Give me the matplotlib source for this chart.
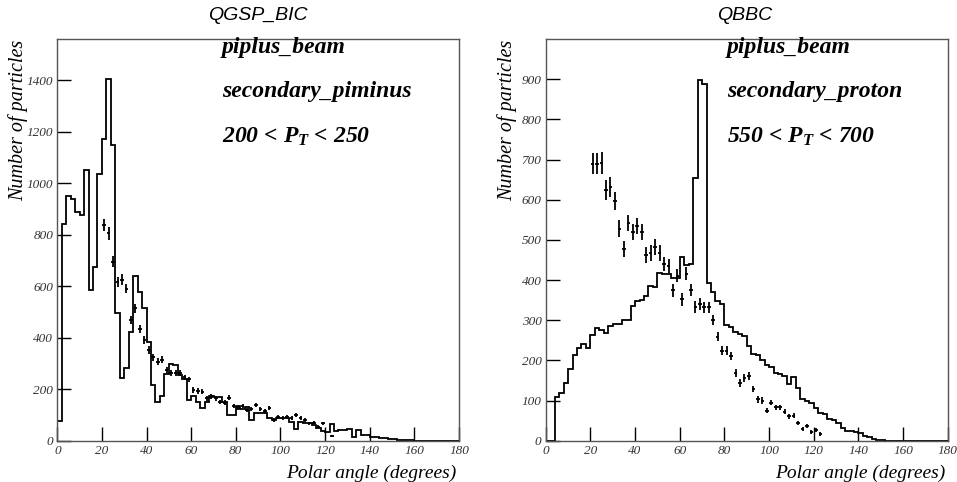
import numpy as np
import matplotlib
matplotlib.use("Agg")
import matplotlib.pyplot as plt

plt.rcParams['mathtext.fontset'] = 'custom'
plt.rcParams['mathtext.it'] = 'Liberation Serif:bold:italic'
plt.rcParams['mathtext.rm'] = 'Liberation Serif:bold:italic'
plt.rcParams['mathtext.bf'] = 'Liberation Serif:bold:italic'

# ---------------- data ----------------
bin_edges = np.arange(0, 182, 2)

left_mc = [78, 840, 950, 937, 888, 875, 1051, 585, 675, 1034,
           1171, 1403, 1149, 494, 242, 281, 423, 639, 579, 514,
           384, 216, 151, 175, 258, 298, 294, 255, 238, 158,
           175, 151, 126, 151, 175, 170, 170, 151, 100, 100,
           135, 122, 130, 80, 109, 109, 109, 87, 80, 87,
           90, 87, 74, 44, 72, 67, 67, 61, 50, 39,
           35, 65, 36, 40, 40, 44, 14, 40, 24, 22,
           13, 13, 9, 12, 7, 5, 3, 2, 1, 1,
           0, 0, 0, 0, 0, 0, 0, 0, 0, 0]

left_data_x = [21, 23, 25, 27, 29, 31, 33, 35, 37, 39, 41, 43, 45, 47, 49, 51,
               53, 55, 57, 59, 61, 63, 65, 67, 69, 71, 73, 75, 77, 79, 81, 83,
               85, 87, 89, 91, 93, 95, 97, 99, 101, 103, 105, 107, 109, 111,
               113, 115, 117, 119, 123]
left_data_y = [837, 805, 695, 617, 626, 591, 469, 514, 434, 391, 352, 324, 307, 314, 273, 264,
               264, 262, 246, 238, 197, 193, 190, 164, 171, 164, 151, 148, 167, 135, 128, 135,
               119, 122, 139, 122, 116, 126, 80, 91, 87, 91, 87, 100, 87, 80,
               67, 70, 54, 68, 18]
left_data_err = [24, 24, 22, 20, 20, 19, 17, 18, 16, 15, 14, 14, 13, 13, 12, 12,
                 12, 12, 11, 11, 10, 10, 10, 9, 9, 9, 9, 9, 9, 8, 8, 8,
                 8, 8, 8, 8, 8, 8, 7, 7, 7, 7, 7, 7, 7, 7,
                 6, 6, 6, 6, 3]

right_mc = [0, 0, 109, 119, 144, 178, 213, 232, 240, 230,
            262, 281, 275, 267, 286, 290, 290, 300, 300, 335,
            347, 350, 360, 386, 382, 418, 414, 416, 404, 404,
            458, 437, 441, 655, 899, 889, 392, 371, 348, 340,
            288, 282, 271, 265, 260, 236, 216, 214, 202, 188,
            184, 169, 166, 161, 140, 158, 130, 103, 100, 95,
            81, 68, 66, 53, 52, 43, 31, 25, 24, 22,
            18, 12, 9, 4, 2, 1, 0, 0, 0, 0,
            0, 0, 0, 0, 0, 0, 0, 0, 0, 0]

right_data_x = [21, 23, 25, 27, 29, 31, 33, 35, 37, 39, 41, 43, 45, 47, 49, 51,
                53, 55, 57, 59, 61, 63, 65, 67, 69, 71, 73, 75, 77, 79, 81, 83,
                85, 87, 89, 91, 93, 95, 97, 99, 101, 103, 105, 107, 109, 111,
                113, 115, 117, 119, 121, 123]
right_data_y = [690, 690, 691, 624, 632, 597, 528, 478, 542, 520, 534, 520, 462, 468, 483, 468,
                440, 435, 374, 411, 352, 416, 375, 333, 340, 332, 332, 301, 259, 224, 224, 211,
                169, 144, 155, 162, 128, 103, 100, 75, 95, 83, 83, 72, 61, 62,
                45, 29, 37, 22, 27, 16]
right_data_err = [27, 27, 27, 25, 25, 22, 22, 20, 20, 20, 20, 20, 20, 20, 20, 20,
                  18, 18, 16, 16, 16, 16, 16, 14, 14, 14, 14, 13, 12, 11, 11, 11,
                  10, 10, 10, 10, 8, 8, 8, 7, 7, 7, 7, 6, 6, 6,
                  5, 5, 5, 5, 5, 5]

x_ticks = [0, 20, 40, 60, 80, 100, 120, 140, 160, 180]
left_yticks = [0, 200, 400, 600, 800, 1000, 1200, 1400]
right_yticks = [0, 100, 200, 300, 400, 500, 600, 700, 800, 900]

# ---------------- figure ----------------
W, H = 957, 482
fig = plt.figure(figsize=(W / 100, H / 100), dpi=100)

serif_it = dict(family='Liberation Serif', style='italic')
frame_col = '#555555'

def make_axes(rect, mc, dx, dy, derr, yticks, ymax):
    ax = fig.add_axes(rect)
    ax.stairs(mc, bin_edges, baseline=0, color='black', linewidth=1.3)
    ax.errorbar(dx, dy, xerr=0.8, yerr=derr, fmt='none', ecolor='black',
                elinewidth=1.3, capsize=0)
    ax.set_xlim(0, 180)
    ax.set_ylim(0, ymax)
    ax.set_xticks(x_ticks)
    ax.set_yticks(yticks)
    ax.tick_params(direction='in', length=10, width=1.0, color='black',
                   labelsize=9.5, labelcolor='#333333', pad=3)
    for lab in ax.get_xticklabels() + ax.get_yticklabels():
        lab.set_fontfamily('Liberation Serif')
        lab.set_fontstyle('italic')
    for sp in ax.spines.values():
        sp.set_color(frame_col)
        sp.set_linewidth(1.0)
    return ax

def px2fx(x):
    return x / W

def px2fy(y):
    return 1 - y / H

ax1 = make_axes([px2fx(57.3), px2fy(440.7), 401.7 / W, 401.7 / H],
                left_mc, left_data_x, left_data_y, left_data_err, left_yticks, 1560)
ax2 = make_axes([px2fx(545.7), px2fy(440.7), 402.0 / W, 401.7 / H],
                right_mc, right_data_x, right_data_y, right_data_err, right_yticks, 1000)

# titles
fig.text(px2fx(258), px2fy(15), 'QGSP_BIC', ha='center', va='center',
         family='Liberation Sans', style='italic', fontsize=14)
fig.text(px2fx(745), px2fy(15), 'QBBC', ha='center', va='center',
         family='Liberation Sans', style='italic', fontsize=14)

# y labels
fig.text(px2fx(18), px2fy(40), 'Number of particles', rotation=90,
         ha='center', va='top', fontsize=14.5, **serif_it)
fig.text(px2fx(507), px2fy(40), 'Number of particles', rotation=90,
         ha='center', va='top', fontsize=14.5, **serif_it)

# x labels
fig.text(px2fx(456), px2fy(473), 'Polar angle (degrees)', ha='right',
         va='center', fontsize=14, **serif_it)
fig.text(px2fx(945), px2fy(473), 'Polar angle (degrees)', ha='right',
         va='center', fontsize=14, **serif_it)

# annotations
ann_kw = dict(family='Liberation Serif', style='italic', weight='bold',
              fontsize=17, ha='left', va='center')
fig.text(px2fx(222), px2fy(47), 'piplus_beam', **ann_kw)
fig.text(px2fx(222), px2fy(91), 'secondary_piminus', **ann_kw)
fig.text(px2fx(222), px2fy(137), r'200 < $P_T$ < 250', **ann_kw)
fig.text(px2fx(727), px2fy(47), 'piplus_beam', **ann_kw)
fig.text(px2fx(727), px2fy(91), 'secondary_proton', **ann_kw)
fig.text(px2fx(727), px2fy(137), r'550 < $P_T$ < 700', **ann_kw)

fig.savefig('out.png', dpi=100)
